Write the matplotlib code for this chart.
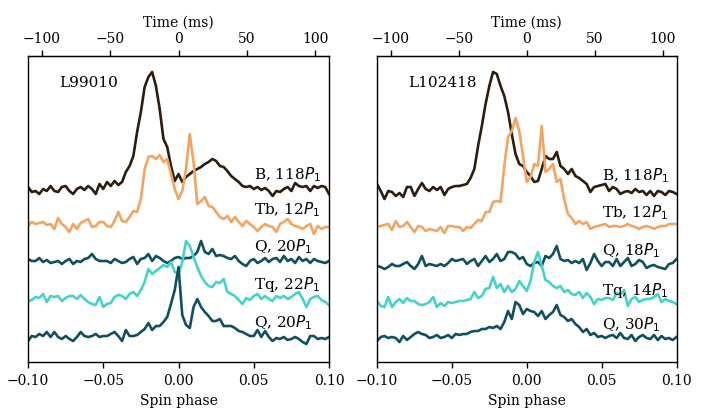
import numpy as np
import matplotlib
matplotlib.use("Agg")
import matplotlib.pyplot as plt

plt.rcParams['font.family'] = ['DejaVu Serif']
plt.rcParams['font.size'] = 10

# spin phase sampling
phase = np.linspace(-0.1, 0.1, 81)
period_ms = 1100.0

# ---- L99010 profiles (arbitrary intensity units) ----
l99_B = [2,-3,-2,-5,0,-2,3,-2,-3,2, 3,-2,-5,0,2,-1,3,0,-5,5,
         0,7,3,8,4,7,17,23,33,57, 77,102,112,117,103,80,50,42,23,8,
         15,
         7,12,15,18,20,22,25,27,30,28, 23,22,18,13,10,7,3,2,3,0,
         2,-1,1,-2,-7,-2,-3,0,2,-2, 6,3,2,3,-2,3,1,3,2,-5]
l99_Tb = [-2,2,0,1,2,-1,0,-5,6,0, -3,-8,0,-5,1,3,5,-3,-2,2,
          2,-2,-3,3,12,3,2,7,13,12, 25,55,67,68,65,69,62,65,50,35,
          25,
          33,55,90,62,20,23,27,18,17,12, 7,5,8,2,7,2,-2,3,0,-3,
          -7,-3,0,-2,-3,-8,0,2,5,0, -2,-3,-5,-2,0,-10,-2,-5,-3,-3]
l99_Q1 = [2,0,0,3,-1,1,-2,-1,0,-3, 0,2,-3,0,-1,2,3,7,2,0,
          0,0,-2,2,0,-2,-1,2,4,-3, 2,3,7,0,5,3,0,-2,0,3,
          4,
          2,3,3,5,9,20,9,7,12,5, 6,5,3,2,5,0,-3,-5,0,2,
          -2,0,3,-1,2,3,-1,5,0,2, -2,4,0,2,-2,2,0,-1,-2,0]
l99_Tq = [-2,-1,2,1,5,-3,3,2,3,-2, 1,3,3,0,4,0,-3,-5,-6,2,
          -8,-5,-4,2,4,3,0,5,7,3, 9,17,30,25,28,31,34,32,37,27,
          25,
          37,58,53,42,32,23,17,13,12,17, 16,20,7,5,3,-1,-5,1,-1,3,
          5,0,3,0,-2,3,1,3,0,2, 5,7,0,-8,0,2,3,-1,-3,-6]
l99_Q2 = [-4,1,0,3,1,5,0,5,0,-2, 1,-2,-4,0,5,1,0,1,3,0,
          1,1,3,5,1,-4,7,1,1,2, 5,8,14,7,11,11,15,20,33,47,
          70,
          22,12,9,30,38,30,25,21,16,16, 18,11,11,11,9,6,5,3,1,1,
          7,0,6,0,-4,-1,-2,0,-3,-2, 0,-2,-5,-7,1,1,-2,-1,-2,0]

# ---- L102418 profiles ----
l102_B = [6,-1,-9,-1,-2,-6,-3,-7,3,3, -6,1,7,1,-1,3,0,3,-5,1,
          3,4,4,5,6,12,21,44,64,86, 104,118,116,104,94,78,56,36,26,24,
          18,
          14,8,9,21,34,31,31,38,24,21, 16,21,14,12,9,6,-2,3,4,5,
          6,-1,3,1,-4,-2,-1,-3,1,-2, -1,-5,-1,-6,-1,-2,-5,-1,-2,-4]
l102_Tb = [0,1,2,3,-3,6,0,1,5,0, -5,1,0,-4,-2,-3,-4,0,-6,1,
           1,0,0,-4,0,-1,3,7,6,15, 15,25,26,25,61,90,96,109,96,71,
           45,
           50,63,61,101,55,58,63,45,48,28, 13,9,3,6,3,5,-2,0,1,2,
           3,0,1,1,0,1,3,1,0,-2, 0,1,0,-2,0,1,1,3,3,3]
l102_Q1 = [-1,-2,-4,-2,1,-1,-1,1,3,-1, -4,1,9,-1,1,0,-1,1,-1,2,
           6,4,5,6,1,4,6,-1,4,9, 3,6,11,4,6,13,13,11,6,8,
           1,
           -1,2,3,-1,9,7,11,19,6,4, 5,2,4,2,6,-5,2,11,4,-1,
           3,3,-1,6,-1,3,7,-1,1,5, 3,-3,-1,0,-2,-3,-4,1,2,6]
l102_Tq = [3,-2,-3,7,-3,2,5,1,6,3, 3,0,-1,0,2,7,-3,1,-2,2,
           1,2,3,3,4,5,12,6,8,15, 16,27,16,20,12,18,12,15,23,18,
           13,
           23,42,52,38,24,22,18,16,18,12, 14,10,9,12,6,11,7,0,5,4,
           6,6,4,11,9,14,-2,5,7,2, 4,5,5,7,10,2,5,3,2,0]
l102_Q2 = [-2,2,3,1,2,1,-3,3,-1,2, 5,7,5,4,1,2,4,1,2,4,
           1,5,4,5,5,7,8,8,10,10, 12,11,13,10,17,28,20,37,34,25,
           30,
           28,27,23,28,20,24,27,34,24,22, 18,20,15,12,7,10,4,6,2,3,
           1,3,4,1,6,1,0,4,-2,2, 4,1,0,4,-1,3,0,1,-1,2]

obs_names = ["L99010", "L102418"]
labels_l99 = ["B, 118$P_1$", "Tb, 12$P_1$", "Q, 20$P_1$", "Tq, 22$P_1$", "Q, 20$P_1$"]
labels_l102 = ["B, 118$P_1$", "Tb, 12$P_1$", "Q, 18$P_1$", "Tq, 14$P_1$", "Q, 30$P_1$"]

c_brown = "#2c1d0c"
c_orange = "#f4a460"
c_teal = "#10505e"
c_turq = "#45d2c9"
colors = [c_brown, c_orange, c_teal, c_turq, c_teal]

panels = [
    dict(name=obs_names[0], series=[l99_B, l99_Tb, l99_Q1, l99_Tq, l99_Q2],
         labels=labels_l99, offsets=[173, 138, 101, 63, 25],
         rect=[28/703, 1-363/410, 301/703, 306/410]),
    dict(name=obs_names[1], series=[l102_B, l102_Tb, l102_Q1, l102_Tq, l102_Q2],
         labels=labels_l102, offsets=[172, 135, 97, 58, 23],
         rect=[377/703, 1-363/410, 299.5/703, 306/410]),
]

fig = plt.figure(figsize=(7.03, 4.10), dpi=100)

for p in panels:
    ax = fig.add_axes(p["rect"])
    for s, lab, off, col in zip(p["series"], p["labels"], p["offsets"], colors):
        ax.plot(phase, np.array(s) + off, color=col, lw=1.9, solid_joinstyle='round')
        ax.text(0.05, off + 15, lab, fontsize=11, ha='left', va='center')
    ax.text(0.105, 0.915, p["name"], transform=ax.transAxes, fontsize=11,
            ha='left', va='center')
    ax.set_xlim(-0.1, 0.1)
    ax.set_ylim(0, 306)
    ax.set_yticks([])
    ax.set_xticks([-0.1, -0.05, 0.0, 0.05, 0.1])
    ax.set_xticklabels(["\u22120.10", "\u22120.05", "0.00", "0.05", "0.10"])
    ax.tick_params(axis='x', length=4.5, width=1.0)
    for sp in ax.spines.values():
        sp.set_linewidth(1.0)
    ax.set_xlabel("Spin phase")
    sec = ax.secondary_xaxis('top', functions=(lambda x: x * period_ms,
                                               lambda t: t / period_ms))
    sec.set_xticks([-100, -50, 0, 50, 100])
    sec.tick_params(length=4.5, width=1.0)
    sec.set_xlabel("Time (ms)")

fig.savefig("out.png", dpi=100)
